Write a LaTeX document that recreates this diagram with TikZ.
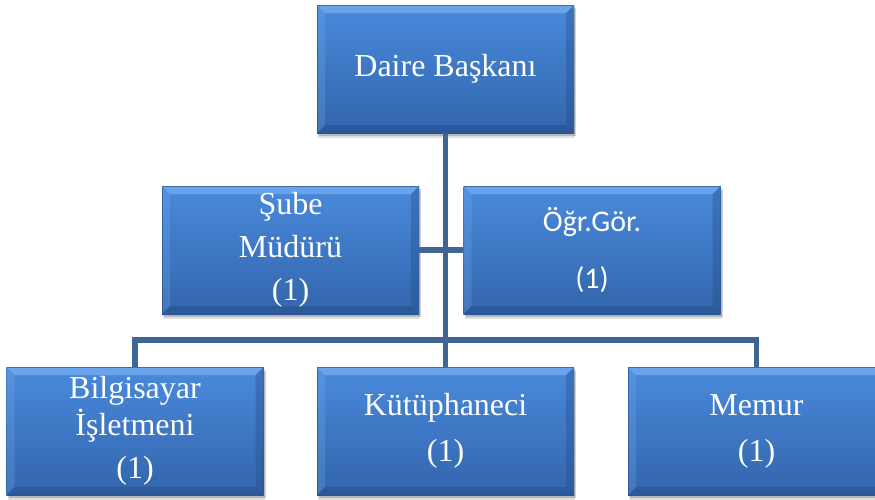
\documentclass[tikz,border=0pt]{standalone}
\usepackage{fontspec}
\setmainfont{Liberation Serif}
\newfontfamily\carlito{Carlito}
\usetikzlibrary{shadows}
\definecolor{boxtop}{RGB}{74,138,220}
\definecolor{boxbot}{RGB}{50,101,172}
\definecolor{linec}{RGB}{63,101,148}
\definecolor{bevlight}{RGB}{120,175,240}
\definecolor{bevdark}{RGB}{35,75,130}
\tikzset{
  orgbox/.style={
    minimum width=257pt, minimum height=128pt, inner sep=0pt,
    text=white, align=center,
    top color=boxtop, bottom color=boxbot,
    drop shadow={shadow xshift=1pt, shadow yshift=-5pt, opacity=0.12, fill=black},
    drop shadow={shadow xshift=2pt, shadow yshift=-3pt, opacity=0.18, fill=black},
    path picture={
      \fill[bevlight,opacity=0.7] (path picture bounding box.north west) -- (path picture bounding box.north east)
        -- ([xshift=-8pt,yshift=-8pt]path picture bounding box.north east) -- ([xshift=8pt,yshift=-8pt]path picture bounding box.north west) -- cycle;
      \fill[bevlight,opacity=0.25] (path picture bounding box.north west) -- ([xshift=8pt,yshift=-8pt]path picture bounding box.north west)
        -- ([xshift=8pt,yshift=8pt]path picture bounding box.south west) -- (path picture bounding box.south west) -- cycle;
      \fill[bevdark,opacity=0.35] (path picture bounding box.north east) -- ([xshift=-8pt,yshift=-8pt]path picture bounding box.north east)
        -- ([xshift=-8pt,yshift=8pt]path picture bounding box.south east) -- (path picture bounding box.south east) -- cycle;
      \fill[bevdark,opacity=0.45] (path picture bounding box.south west) -- (path picture bounding box.south east)
        -- ([xshift=-8pt,yshift=8pt]path picture bounding box.south east) -- ([xshift=8pt,yshift=8pt]path picture bounding box.south west) -- cycle;
      \draw[bevdark,opacity=0.6,line width=1pt] (path picture bounding box.south west) rectangle (path picture bounding box.north east);
    }},
  conn/.style={draw=linec, line width=5.5pt}
}
\begin{document}
\begin{tikzpicture}[x=1pt,y=-1pt]
\useasboundingbox (0,0) rectangle (875,499);
\node[orgbox, font=\fontsize{32}{36}\selectfont] (top) at (445.5,69) {Daire Başkanı};
\node[orgbox, font=\fontsize{32}{43}\selectfont] (sube) at (290.5,250) {Şube\\Müdürü\\(1)};
\node[orgbox, font=\carlito\fontsize{30}{57}\selectfont] (ogr) at (592,250) {Öğr.Gör.\\(1)};
\node[orgbox, font=\fontsize{32}{37}\selectfont] (bil) at (135,431) {Bilgisayar\\İşletmeni\\[6pt](1)};
\node[orgbox, font=\fontsize{32}{46}\selectfont] (kut) at (445.5,431) {Kütüphaneci\\(1)};
\node[orgbox, font=\fontsize{32}{46}\selectfont] (mem) at (756.5,431) {Memur\\(1)};
\coordinate (j2) at (445.5,340);
\draw[conn] (top.south) -- (j2);
\draw[conn] (sube.east) -- (ogr.west);
\draw[conn] (bil.north) |- (j2) -| (mem.north);
\draw[conn] (j2) -- (kut.north);
\end{tikzpicture}
\end{document}
